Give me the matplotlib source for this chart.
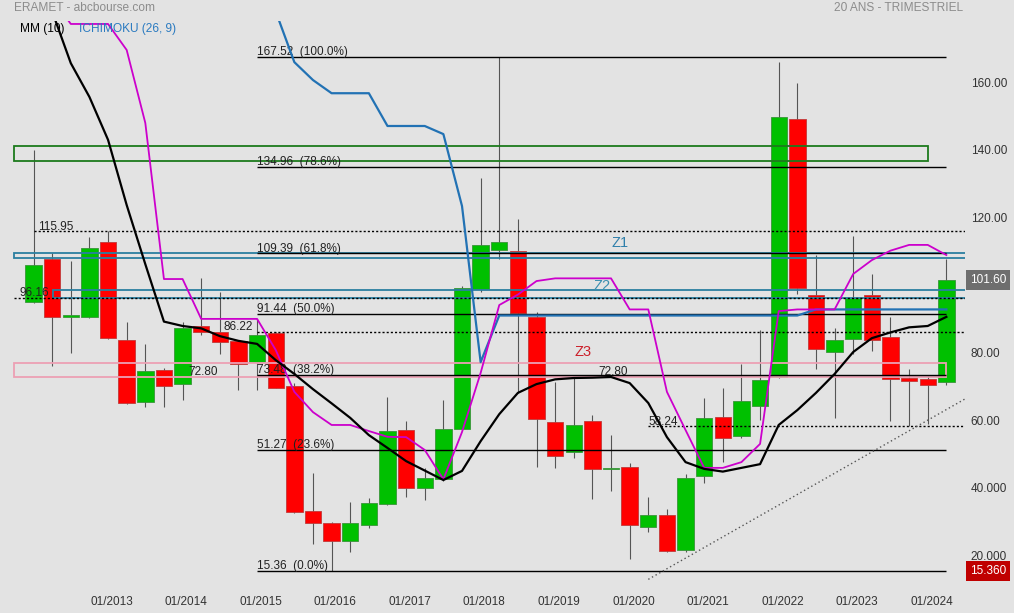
import numpy as np
import matplotlib.pyplot as plt
from matplotlib.patches import Rectangle

plt.rcParams['font.family'] = ['Liberation Sans', 'DejaVu Sans']

# ERAMET quarterly candles, Q1 2012 .. Q2 2024
opens = [95.1, 107.7, 90.6, 90.5, 112.7, 83.7, 65.5, 74.9, 70.6, 87.9,
         86.0, 83.5, 77.1, 85.9, 70.1, 33.1, 29.6, 24.3, 29.1, 35.3,
         57.0, 40.0, 42.6, 57.5, 98.8, 110.5, 110.1, 90.6, 59.4, 50.5,
         59.7, 45.5, 46.1, 28.5, 31.9, 21.7, 43.4, 61.0, 55.2, 64.3,
         72.9, 149.2, 97.1, 80.1, 84.1, 97.1, 84.6, 72.6, 72.2, 71.2]
highs = [140.0, 109.4, 107.1, 114.2, 115.95, 89.0, 82.6, 75.5, 89.0, 102.2,
         98.0, 83.6, 90.0, 86.2, 71.0, 44.5, 29.8, 35.8, 37.0, 67.0,
         59.8, 45.8, 66.0, 99.7, 131.7, 167.52, 119.6, 92.1, 71.3, 72.4,
         61.5, 55.6, 47.2, 37.3, 33.6, 44.0, 66.7, 69.6, 76.6, 86.7,
         166.0, 159.9, 108.9, 87.2, 114.5, 103.2, 90.6, 75.3, 73.1, 107.7]
lows = [94.6, 76.1, 80.0, 90.2, 84.0, 64.8, 64.0, 64.0, 66.0, 85.2,
        79.6, 68.9, 68.9, 69.4, 32.5, 23.3, 15.36, 21.0, 28.1, 35.0,
        37.4, 36.4, 42.0, 57.0, 98.0, 107.6, 68.0, 46.2, 45.9, 48.9,
        36.6, 39.1, 18.8, 26.9, 21.1, 21.0, 41.3, 47.7, 54.8, 60.1,
        72.5, 97.3, 75.3, 60.7, 79.5, 80.6, 59.8, 58.24, 58.8, 70.4]
closes = [106.0, 90.6, 90.9, 111.0, 84.2, 65.0, 74.6, 70.2, 87.4, 86.22,
          83.2, 76.5, 85.2, 69.5, 32.7, 29.5, 24.4, 29.5, 35.4, 56.7,
          40.0, 42.8, 57.3, 99.1, 111.8, 112.8, 91.65, 60.3, 49.5, 58.6,
          45.5, 45.8, 28.9, 31.9, 21.4, 42.8, 60.7, 54.8, 65.7, 71.9,
          149.8, 99.0, 81.2, 83.7, 96.1, 83.7, 72.1, 71.5, 70.3, 101.6]

nan = np.nan
mm10 = [nan, 181.0, 165.7, 155.7, 143.0, 123.7, 106.2, 89.2, 87.9, 87.2,
        84.9, 83.5, 82.6, 77.8, 73.7, 69.2, 65.0, 60.7, 55.6, 51.8,
        47.9, 45.1, 42.3, 45.0, 53.8, 61.8, 68.1, 70.7, 72.1, 72.5,
        72.6, 72.8, 71.0, 65.1, 55.0, 47.6, 45.6, 44.8, 45.9, 47.0,
        58.6, 63.0, 68.1, 73.7, 80.2, 84.3, 86.0, 87.5, 87.9, 90.6]
kijun = [nan, 185.0, 177.3, 177.3, 177.3, 169.6, 148.0, 101.8, 101.8, 90.0,
         90.0, 90.0, 90.0, 80.8, 68.4, 62.4, 58.6, 58.6, 56.8, 55.1,
         55.0, 51.2, 42.5, 56.5, 74.0, 94.1, 97.2, 101.2, 102.0, 102.0,
         102.0, 102.0, 92.8, 92.8, 68.4, 57.1, 45.9, 45.9, 47.6, 53.0,
         92.3, 92.8, 92.8, 92.8, 103.3, 107.4, 110.2, 111.9, 111.9, 108.9]
ichimoku = [nan] * 13 + [181.0, 166.0, 160.7, 156.8, 156.8, 156.8, 147.1,
            147.1, 147.1, 144.7, 123.4, 77.2] + [91.0] * 17 + [92.8] * 8

fib_levels = [167.52, 134.96, 109.39, 91.44, 73.48, 51.27, 15.36]
fib_pcts = ['100.0%', '78.6%', '61.8%', '50.0%', '38.2%', '23.6%', '0.0%']
dotted_levels = [115.95, 96.16, 86.22, 58.24]
zones = {'green': (136.64, 141.26), 'Z1': (107.93, 109.59),
         'Z2': (96.09, 98.55), 'Z3': (72.70, 76.85)}
trend = ([33, 50], [12.9, 66.3])
years = list(range(2013, 2025))

bg = '#e3e3e3'
fig = plt.figure(figsize=(10.14, 6.13), dpi=100, facecolor=bg)
ax = fig.add_axes([0, 25 / 613, 965 / 1014, 567 / 613])
ax.set_facecolor(bg)
ax.set_xlim(-1.8, 50.0)
ax.set_ylim(10.34, 178.18)
for s in ax.spines.values():
    s.set_visible(False)

# candles
x = np.arange(len(opens))
o = np.array(opens)
c = np.array(closes)
up = c >= o
ax.vlines(x, lows, highs, color='#555555', lw=0.8, zorder=2)
lo = np.minimum(o, c)
h = np.maximum(np.abs(c - o), 0.45)
ax.bar(x[up], h[up], bottom=lo[up], width=0.88, color='#00c000',
       edgecolor='#3a953a', lw=0.6, zorder=3)
ax.bar(x[~up], h[~up], bottom=lo[~up], width=0.88, color='#ff0000',
       edgecolor='#c03a3a', lw=0.6, zorder=3)

# zones
zone_style = {'green': ('#1c7a1c', -1.03, 48.0), 'Z1': ('#2a7fa0', -1.03, 52),
              'Z2': ('#2a7fa0', 1.03, 52), 'Z3': ('#eca0b4', -1.03, 49)}
for name, (lo_v, hi_v) in zones.items():
    col, x0, x1 = zone_style[name]
    ax.add_patch(Rectangle((x0, lo_v), x1 - x0, hi_v - lo_v, fill=False,
                           edgecolor=col, lw=1.3, zorder=4))
ax.text(31.5, 112.5, 'Z1', color='#2f7fab', fontsize=10.5, ha='center', va='center', zorder=4)
ax.text(30.5, 99.7, 'Z2', color='#3a8fb0', fontsize=10.5, ha='center', va='center', zorder=4)
ax.text(29.5, 80.2, 'Z3', color='#cc1f2a', fontsize=10.5, ha='center', va='center', zorder=4)

# fibonacci retracement
ax.hlines(fib_levels, 12, 49, color='black', lw=1, zorder=4)
for lv, pc in zip(fib_levels, fib_pcts):
    ax.annotate(f'{lv:.2f}  ({pc})', (12, lv), xytext=(0, 1.2),
                textcoords='offset points', fontsize=8.5, color='#222222',
                va='baseline', ha='left', zorder=4)

# dotted levels
dot_start = [0, -1.03, 12, 33]
for lv, x0 in zip(dotted_levels, dot_start):
    ax.hlines(lv, x0, 50, color='black', lw=1, linestyles=(0, (1.5, 1.5)), zorder=4)
label_pos = [(0.24, 115.95, 'left'), (-0.78, 96.16, 'left'),
             (11.8, 86.22, 'right'), (33.0, 58.24, 'left'),
             (8.3, 72.80, 'left'), (30.3, 72.80, 'left')]
for lx, lv, ha in label_pos:
    ax.annotate(f'{lv:.2f}', (lx, lv), xytext=(0, 1.2), textcoords='offset points',
                fontsize=8.5, color='#222222', va='baseline', ha=ha, zorder=4)

ax.plot(trend[0], trend[1], color='#555555', lw=1, ls=(0, (1, 2)), zorder=4)

# indicators
ax.plot(x, ichimoku, color='#2272b4', lw=1.6, zorder=5)
ax.plot(x, kijun, color='#cc00cc', lw=1.3, zorder=5)
ax.plot(x, mm10, color='black', lw=1.6, zorder=5)

# axes labels
ax.set_xticks([4 * (y - 2012) + 0.2 for y in years])
ax.set_xticklabels([f'01/{y}' for y in years])
ax.yaxis.tick_right()
yt = [20, 40, 60, 80, 120, 140, 160]
ax.set_yticks(yt)
ax.set_yticklabels([f'{v:.3f}' if v < 50 else f'{v:.2f}' for v in yt])
ax.tick_params(length=0, labelsize=8.5, colors='#333333')
ax.tick_params(axis='x', pad=6)
ax.tick_params(axis='y', pad=4)

ax.text(1.005, closes[-1], f'{closes[-1]:.2f}', transform=ax.get_yaxis_transform(),
        color='white', fontsize=8.5, va='center', ha='left', clip_on=False, zorder=6,
        bbox=dict(boxstyle='square,pad=0.35', fc='#6e6e6e', ec='none'))
ax.text(1.005, min(lows), f'{min(lows):.3f}', transform=ax.get_yaxis_transform(),
        color='white', fontsize=8.5, va='center', ha='left', clip_on=False, zorder=6,
        bbox=dict(boxstyle='square,pad=0.35', fc='#c00000', ec='none'))

fig.text(14 / 1014, 1 - 8 / 613, 'ERAMET - abcbourse.com', color='#8c8c8c',
         fontsize=8.6, va='center', ha='left')
fig.text(963 / 1014, 1 - 8 / 613, '20 ANS - TRIMESTRIEL', color='#8c8c8c',
         fontsize=8.6, va='center', ha='right')
fig.text(20 / 1014, 1 - 29 / 613, 'MM (10)', color='black', fontsize=8.6, va='center')
fig.text(79 / 1014, 1 - 29 / 613, 'ICHIMOKU (26, 9)', color='#2a7ac0', fontsize=8.6, va='center')

fig.savefig('out.png', dpi=100, facecolor=bg)
